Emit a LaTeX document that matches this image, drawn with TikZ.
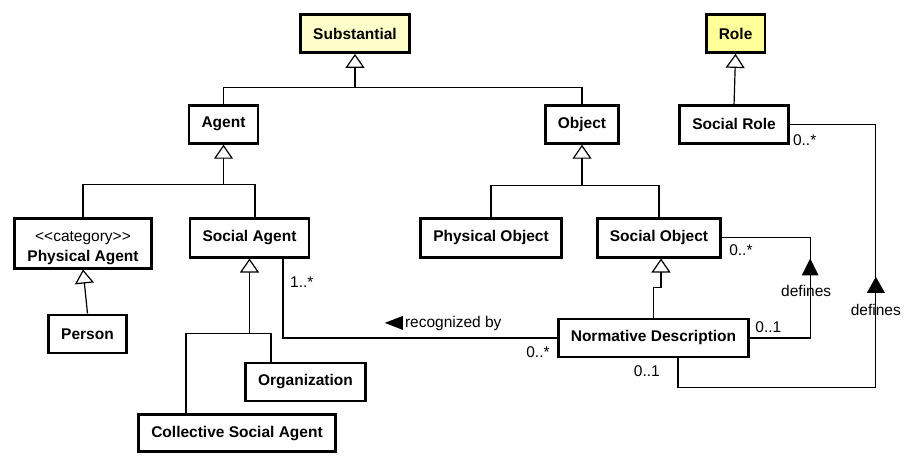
\documentclass[tikz,border=0pt]{standalone}
\usepackage{fontspec}
\newfontfamily\umlfont{Liberation Sans}
\usetikzlibrary{positioning,arrows.meta}
\definecolor{substfill}{HTML}{FFFFCC}
\definecolor{rolefill}{HTML}{FFFF99}
\tikzset{
  umlclass/.style={draw, line width=2.8pt, fill=white, inner xsep=12.6pt, inner ysep=0pt,
    minimum height=38pt, align=center, font=\umlfont\fontsize{15.5pt}{18pt}\selectfont\bfseries},
  gen/.style={line width=1.2pt, -{Triangle[open, length=14pt, width=19pt, line width=1.2pt]}},
  assoc/.style={line width=1.2pt},
  mult/.style={inner sep=1pt, font=\umlfont\fontsize{15.5pt}{18pt}\selectfont},
}
\begin{document}
\begin{tikzpicture}
  \useasboundingbox (0,0) rectangle (918pt,-468pt);
  \node[umlclass, fill=substfill] (Subst) at (355pt,-33.5pt) {Substantial};
  \node[umlclass, fill=rolefill, right=294pt of Subst] (Role) {Role};
  \node[umlclass, below=50pt of Subst, xshift=-131.5pt] (Agent) {Agent};
  \node[umlclass, below=50pt of Subst, xshift=227pt] (Obj) {Object};
  \node[umlclass, below=50pt of Role, xshift=-1.5pt] (SRole) {Social Role};
  \node[umlclass, below=72pt of Agent, xshift=-140.5pt, minimum height=50pt] (PAgent)
    {{\mdseries\rule{0pt}{21pt}<<category>>}\\[2pt]Physical Agent};
  \node[umlclass, below=72pt of Agent, xshift=26pt, minimum height=39pt] (SAgent) {Social Agent};
  \node[umlclass, below=72pt of Obj, xshift=-91pt, minimum height=39pt] (PObj) {Physical Object};
  \node[umlclass, below=72pt of Obj, xshift=77pt, minimum height=39pt] (SObj) {Social Object};
  \node[umlclass, below=44pt of PAgent, xshift=4.5pt] (Person) {Person};
  \node[umlclass, below=103pt of SAgent, xshift=56pt] (Org) {Organization};
  \node[umlclass, below=11pt of Org, xshift=-68.5pt, minimum height=37pt] (CSA) {Collective Social Agent};
  \node[umlclass, below=59pt of SObj, xshift=-5.5pt] (ND) {Normative Description};

  \coordinate[below=34pt of Subst] (join-Subst);
  \coordinate[below=40pt of Agent] (join-Agent);
  \coordinate[below=41pt of Obj] (join-Obj);
  \coordinate[below=75pt of SAgent] (join-SAgent);
  \draw[assoc] (Agent.north) |- (join-Subst) -| (Obj.north);
  \draw[gen] (join-Subst) -- (Subst.south);
  \draw[assoc] (PAgent.north) |- (join-Agent) -| ([xshift=5.5pt]SAgent.north);
  \draw[gen] (join-Agent) -- (Agent.south);
  \draw[assoc] (PObj.north) |- (join-Obj) -| (SObj.north);
  \draw[gen] (join-Obj) -- (Obj.south);
  \draw[gen] (SRole.north) -- (Role.south);
  \draw[gen] (Person.north) -- (PAgent.south);
  \draw[assoc] ([xshift=-51pt]CSA.north) |- (join-SAgent) -| ([xshift=-34.5pt]Org.north);
  \draw[gen] (join-SAgent) -- (SAgent.south);
  \draw[gen] (ND.north) -- ++(0,30pt) -| ([xshift=2pt]SObj.south);

  \draw[assoc] ([xshift=33.5pt]SAgent.south) |- (ND.west);
  \node[mult, anchor=west] (m-SAgent) at ([xshift=39.5pt,yshift=-24pt]SAgent.south) {1..*};
  \node[mult, anchor=east] (m-ND-rb) at ([xshift=-6pt,yshift=-14.5pt]ND.west) {0..*};
  \node[mult, anchor=west] (rb) at ([xshift=-153pt,yshift=14pt]ND.west) {recognized by};
  \fill ([xshift=-1pt,yshift=1pt]rb.west) ++(0,7pt) -- ++(0,-14pt) -- ++(-18pt,7pt) -- cycle;

  \coordinate (cor-ND) at ([xshift=60pt]ND.east);
  \draw[assoc] (SObj.east) -| (cor-ND) -- (ND.east);
  \node[mult, anchor=west] (m-SObj) at ([xshift=6pt,yshift=-13pt]SObj.east) {0..*};
  \node[mult, anchor=west] (m-ND-so) at ([xshift=4pt,yshift=10.5pt]ND.east) {0..1};
  \fill ([yshift=62.5pt]cor-ND) ++(-8.5pt,0) -- ++(17pt,0) -- ++(-8.5pt,17pt) -- cycle;
  \node[mult] (def-SObj) at ([xshift=-4pt,yshift=46.5pt]cor-ND) {defines};

  \coordinate (cor-SRole) at ([xshift=86pt]SRole.east);
  \draw[assoc] (SRole.east) -- (cor-SRole) |- ([xshift=24.5pt,yshift=-29pt]ND.south) -- ([xshift=24.5pt]ND.south);
  \node[mult, anchor=west] (m-SRole) at ([xshift=2pt,yshift=-15.5pt]SRole.east) {0..*};
  \node[mult, anchor=east] (m-ND-sr) at ([xshift=7.5pt,yshift=-13pt]ND.south) {0..1};
  \fill ([yshift=-168.5pt]cor-SRole) ++(-9pt,0) -- ++(18pt,0) -- ++(-9pt,16pt) -- cycle;
  \node[mult] (def-SRole) at ([yshift=-185.5pt]cor-SRole) {defines};
\end{tikzpicture}
\end{document}
